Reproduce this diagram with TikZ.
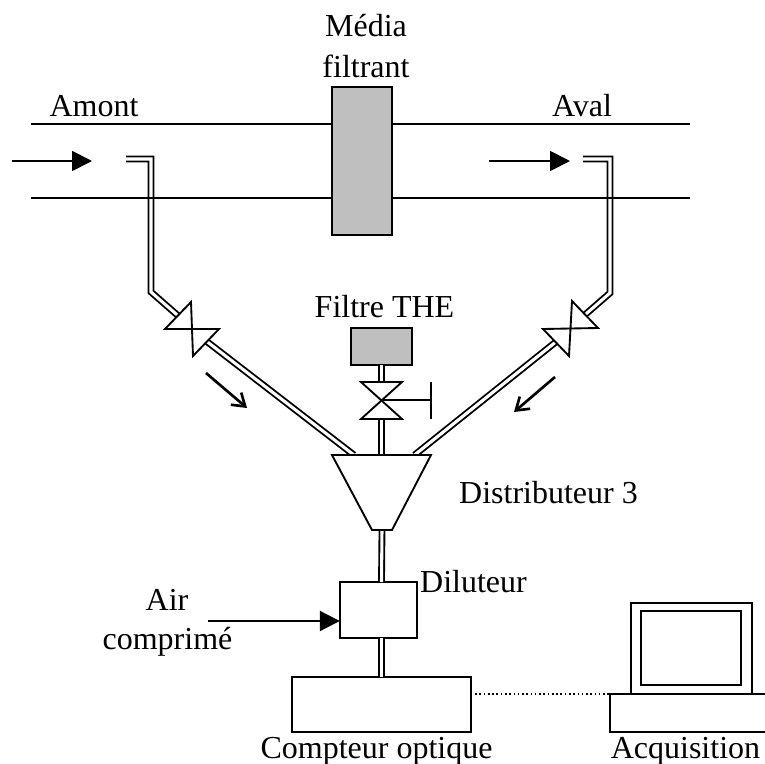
\documentclass[tikz,border=0pt]{standalone}
\usepackage{fontspec}
\setmainfont{Liberation Serif}
\usetikzlibrary{positioning,arrows.meta,calc}

\begin{document}
\begin{tikzpicture}[
  x=0.75pt, y=-0.75pt,
  font=\fontsize{24}{28}\selectfont,
  label/.style={anchor=base, inner sep=0pt, outer sep=0pt},
  box/.style={draw, line width=1.6pt, fill=white, inner sep=0pt, outer sep=0pt},
  grey/.style={box, fill=gray!50},
  pipe/.style={line width=1.4pt},
  tube/.style={draw, line width=1.4pt, double, double distance=2.3pt},
  valve/.style={draw, line width=1.4pt, fill=white, line join=miter},
  flow/.style={line width=1.4pt, -{Triangle[length=15pt,width=15pt]}},
  sens/.style={line width=2pt, -{Straight Barb[length=9pt,width=12pt]}},
]
\useasboundingbox (0,0) rectangle (765,764);
\clip (0,0) rectangle (765,764);

% Free ends and corners
\coordinate (pipeAa) at (31,124);
\coordinate (pipeAb) at (690,124);
\coordinate (pipeBa) at (31,198);
\coordinate (pipeBb) at (690,198);
\coordinate (probeL) at (126,159);
\coordinate (cornerL) at (151,159);
\coordinate (elbowL) at (151,292);
\coordinate (probeR) at (583,159);
\coordinate (cornerR) at (610,159);
\coordinate (elbowR) at (610,293);

% Valves (corners, then where the tubes end inside them)
\coordinate (vLa) at (191,302);
\coordinate (vLb) at (219,329);
\coordinate (vLc) at (165,329);
\coordinate (vLd) at (193,356);
\coordinate (vLi) at (183,320);
\coordinate (vLo) at (201,337);
\coordinate (vRa) at (572,301);
\coordinate (vRb) at (598,328);
\coordinate (vRc) at (543,329);
\coordinate (vRd) at (569,356);
\coordinate (vRi) at (579,320);
\coordinate (vRo) at (562,337);
\coordinate (vCa) at (361,382);
\coordinate (vCb) at (402,382);
\coordinate (vCc) at (361,419);
\coordinate (vCd) at (402,419);
\coordinate (vCm) at (381.5,400);
\coordinate (handle) at (431,400);
\coordinate (handleA) at (431,382);
\coordinate (handleB) at (431,419);

% Distributor corners
\coordinate (dA) at (332,455);
\coordinate (dB) at (431,455);
\coordinate (dC) at (392,530);
\coordinate (dD) at (372,530);

% Boxes
\node[grey, minimum width=45pt, minimum height=111pt] (media) at (362,161) {};
\node[grey, minimum width=46pt, minimum height=28pt] (the) at (381.5,346.5) {};
\node[box, minimum width=58pt, minimum height=42pt] (diluteur) at (378.5,610) {};
\node[box, minimum width=134pt, minimum height=41pt] (compteur) at (381.5,704.5) {};

% Computer
\node[box, minimum width=91pt, minimum height=68pt] (ecran) at (691.5,648.5) {};
\node[box, minimum width=75pt, minimum height=55pt] (vitre) at (691,648) {};
\node[box, minimum width=128pt, minimum height=28.5pt] (socle) at (695,713) {};

% Sampling lines
\draw[tube] (probeL) -- (cornerL) -- (elbowL) -- (vLi);
\draw[tube] (vLo) -- (354,455);
\draw[tube] (probeR) -- (cornerR) -- (elbowR) -- (vRi);
\draw[tube] (vRo) -- (414.5,455);
\draw[tube] (the.south -| vCm) -- ($(vCa)!.5!(vCb)$);
\draw[tube] ($(vCc)!.5!(vCd)$) -- ($(dA)!.5!(dB)$);
\draw[tube] ($(dC)!.5!(dD)$) -- (diluteur.north -| vCm);
\draw[tube] (diluteur.south -| vCm) -- (compteur.north);

% Duct
\draw[pipe] (pipeAa) -- (media.west |- pipeAa);
\draw[pipe] (media.east |- pipeAb) -- (pipeAb);
\draw[pipe] (pipeBa) -- (media.west |- pipeBa);
\draw[pipe] (media.east |- pipeBb) -- (pipeBb);

% Valves
\draw[valve] (vLa) -- (vLc) -- (vLb) -- (vLd) -- cycle;
\draw[valve] (vRa) -- (vRb) -- (vRc) -- (vRd) -- cycle;
\draw[valve] (vCa) -- (vCb) -- (vCc) -- (vCd) -- cycle;
\draw[pipe] (vCm) -- (handle);
\draw[pipe] (handleA) -- (handleB);

% Distributor
\draw[valve] (dA) -- (dB) -- (dC) -- (dD) -- cycle;

% Flow direction
\coordinate (inLa) at (12,161);
\coordinate (inLb) at (92,161);
\coordinate (inRa) at (489,161);
\coordinate (inRb) at (570,161);
\coordinate (airA) at (208,621);
\draw[flow] (inLa) -- (inLb);
\draw[flow] (inRa) -- (inRb);
\draw[flow] (airA) -- (diluteur.west |- airA);
\coordinate (sensLa) at (206,373);
\coordinate (sensLb) at (247,408);
\coordinate (sensRa) at (555,377);
\coordinate (sensRb) at (514,412);
\draw[sens] (sensLa) -- (sensLb);
\draw[sens] (sensRa) -- (sensRb);

% Signal to computer
\draw[line width=1.2pt, dotted] (compteur.east |- socle.north) -- (socle.north west);

% Labels
\node[label] (tMedia) at (366,36) {Média};
\node[label] (tFiltrant) at (366,77) {filtrant};
\node[label] (tAmont) at (94,116) {Amont};
\node[label] (tAval) at (582,116) {Aval};
\node[label] (tThe) at (384.5,317) {Filtre THE};
\node[label] (tDistrib) at (548.5,503) {Distributeur 3};
\node[label] (tDiluteur) at (473.5,592) {Diluteur};
\node[label] (tAir) at (167,610) {Air};
\node[label] (tComprime) at (167.5,649) {comprimé};
\node[label] (tCompteur) at (376.5,758) {Compteur optique};
\node[label] (tAcq) at (685.5,758) {Acquisition};

\end{tikzpicture}
\end{document}
